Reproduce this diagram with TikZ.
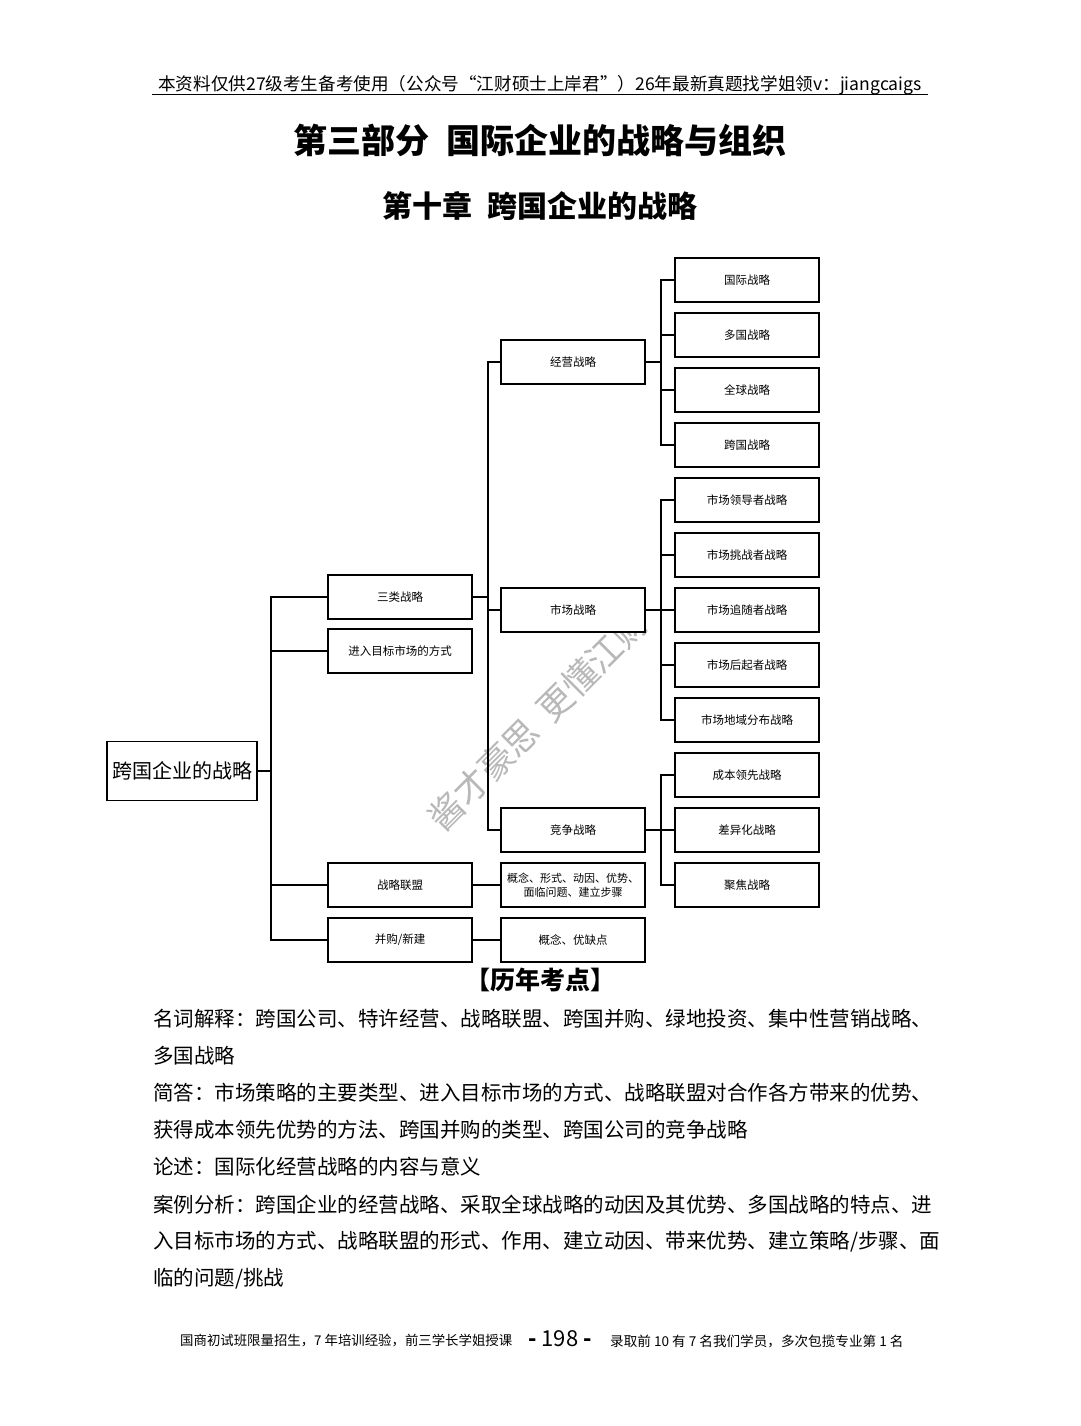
\documentclass[tikz,border=0pt]{standalone}
\usepackage{fontspec}
\setmainfont{Noto Sans CJK SC}
\begin{document}
\begin{tikzpicture}[x=1pt,y=-1pt,
  box/.style={draw, line width=1.5pt, fill=white, minimum width=144pt, minimum height=44pt, inner sep=0pt, font=\fontsize{11.5}{13}\selectfont, align=center},
  conn/.style={line width=1.5pt},
  bodyline/.style={anchor=west, inner sep=0pt, font=\fontsize{20.5}{22}\selectfont}]
\useasboundingbox (0,0) rectangle (1080,1426);
\fill[white] (0,0) rectangle (1080,1426);
% header
\node[inner sep=0pt, font=\fontsize{17.6}{19}\selectfont] (hdr) at (540,85) {本资料仅供27级考生备考使用（公众号“江财硕士上岸君”）26年最新真题找学姐领v：jiangcaigs};
\coordinate (hl) at (152,95);
\coordinate (hr) at (928,95);
\draw[line width=1pt] (hl) -- (hr);
% titles
\node[inner sep=0pt, font=\fontsize{34}{38}\bfseries\selectfont] (title) at (540,140) {第三部分\hspace{0.5em}国际企业的战略与组织};
\node[inner sep=0pt, font=\fontsize{30}{34}\bfseries\selectfont] (subtitle) at (540,206) {第十章\hspace{0.5em}跨国企业的战略};
% watermark
\node[inner sep=0pt, rotate=45, text=black!28, font=\fontsize{35}{37}\selectfont] (wm) at (538,720) {酱才豪思\hspace{0.4em}更懂江财};
% root
\node[box, minimum width=150pt, minimum height=59pt, font=\fontsize{20}{22}\selectfont] (root) at (182,771) {跨国企业的战略};
% level 1
\node[box] (sanlei) at (400,597) {三类战略};
\node[box] (jinru) at (400,651) {进入目标市场的方式};
\node[box] (lianmeng) at (400,885) {战略联盟};
\node[box] (binggou) at (400,940) {并购/新建};
% level 2
\node[box] (jingying) at (573,362) {经营战略};
\node[box] (shichang) at (573,610) {市场战略};
\node[box] (jingzheng) at (573,830) {竞争战略};
\node[box, font=\fontsize{11}{14}\selectfont] (gainian1) at (573,885) {概念、形式、动因、优势、\\面临问题、建立步骤};
\node[box] (gainian2) at (573,940) {概念、优缺点};
% level 3
\node[box] (guoji) at (747,280) {国际战略};
\node[box] (duoguo) at (747,335) {多国战略};
\node[box] (quanqiu) at (747,390) {全球战略};
\node[box] (kuaguo) at (747,445) {跨国战略};
\node[box] (lingdao) at (747,500) {市场领导者战略};
\node[box] (tiaozhan) at (747,555) {市场挑战者战略};
\node[box] (zhuisui) at (747,610) {市场追随者战略};
\node[box] (houqi) at (747,665) {市场后起者战略};
\node[box] (diyu) at (747,720) {市场地域分布战略};
\node[box] (chengben) at (747,775) {成本领先战略};
\node[box] (chayi) at (747,830) {差异化战略};
\node[box] (jujiao) at (747,885) {聚焦战略};
% connectors
\foreach \c in {sanlei,jinru,lianmeng,binggou}
  \draw[conn] (root.east) -- ++(13,0) |- (\c.west);
\foreach \c in {jingying,shichang,jingzheng}
  \draw[conn] (sanlei.east) -- ++(15,0) |- (\c.west);
\draw[conn] (lianmeng.east) -- (gainian1.west);
\draw[conn] (binggou.east) -- (gainian2.west);
\foreach \c in {guoji,duoguo,quanqiu,kuaguo}
  \draw[conn] (jingying.east) -- ++(15,0) |- (\c.west);
\foreach \c in {lingdao,tiaozhan,zhuisui,houqi,diyu}
  \draw[conn] (shichang.east) -- ++(15,0) |- (\c.west);
\foreach \c in {chengben,chayi,jujiao}
  \draw[conn] (jingzheng.east) -- ++(15,0) |- (\c.west);
% exam points
\node[inner sep=0pt, font=\fontsize{25}{28}\bfseries\selectfont] (kd) at (540,980) {【历年考点】};
\node[bodyline] (l1) at (153,1019) {名词解释：跨国公司、特许经营、战略联盟、跨国并购、绿地投资、集中性营销战略、};
\node[bodyline] (l2) at (153,1056) {多国战略};
\node[bodyline] (l3) at (153,1093) {简答：市场策略的主要类型、进入目标市场的方式、战略联盟对合作各方带来的优势、};
\node[bodyline] (l4) at (153,1130) {获得成本领先优势的方法、跨国并购的类型、跨国公司的竞争战略};
\node[bodyline] (l5) at (153,1167) {论述：国际化经营战略的内容与意义};
\node[bodyline] (l6) at (153,1205) {案例分析：跨国企业的经营战略、采取全球战略的动因及其优势、多国战略的特点、进};
\node[bodyline] (l7) at (153,1242) {入目标市场的方式、战略联盟的形式、作用、建立动因、带来优势、建立策略/步骤、面};
\node[bodyline] (l8) at (153,1279) {临的问题/挑战};
% footer
\node[anchor=west, inner sep=0pt, font=\fontsize{13.4}{15}\selectfont] (fl) at (180,1341) {国商初试班限量招生，7 年培训经验，前三学长学姐授课};
\node[inner sep=0pt, font=\fontsize{22}{24}\selectfont] (pg) at (560,1339) {\textbf{-} 198 \textbf{-}};
\node[anchor=west, inner sep=0pt, font=\fontsize{13.6}{15}\selectfont] (fr) at (610,1341) {录取前 10 有 7 名我们学员，多次包揽专业第 1 名};
\end{tikzpicture}
\end{document}
